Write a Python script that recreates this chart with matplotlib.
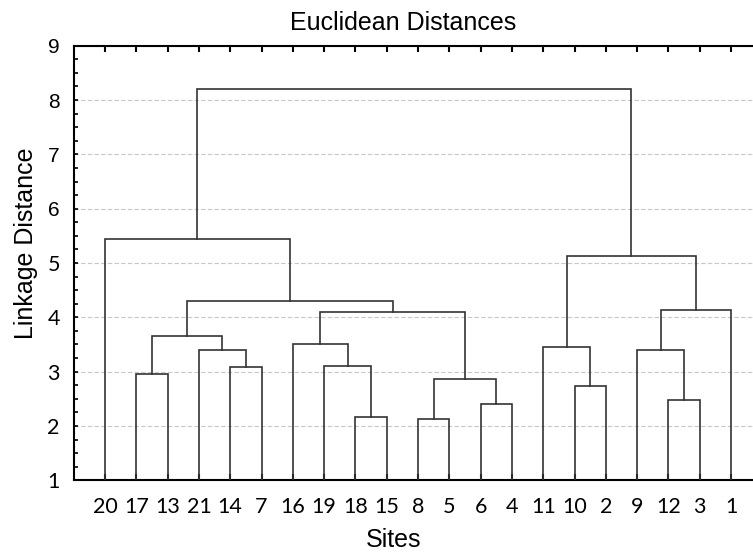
import matplotlib
matplotlib.use("Agg")
from matplotlib import pyplot as plt
from matplotlib.ticker import MultipleLocator

# leaf order along the x axis (site numbers)
leaf_labels = [20, 17, 13, 21, 14, 7, 16, 19, 18, 15, 8, 5, 6, 4, 11, 10, 2, 9, 12, 3, 1]

# merges: left child, right child, linkage distance (cN = result of merge N)
merge_left = ["17", "14", "21", "c0", "18", "19", "16", "8", "6", "c7",
              "c6", "c3", "20", "10", "11", "12", "9", "c16", "c14", "c12"]
merge_right = ["13", "7", "c1", "c2", "15", "c4", "c5", "5", "4", "c8",
               "c9", "c10", "c11", "2", "c13", "3", "c15", "1", "c17", "c18"]
merge_height = [2.96, 3.09, 3.39, 3.66, 2.16, 3.10, 3.51, 2.13, 2.41, 2.87,
                4.10, 4.30, 5.44, 2.73, 3.46, 2.48, 3.40, 4.14, 5.13, 8.20]

y_ticks = [1, 2, 3, 4, 5, 6, 7, 8, 9]

plt.rcParams["font.family"] = ["Liberation Sans", "DejaVu Sans"]

fig = plt.figure(figsize=(7.53, 5.54), dpi=100)
# axes run past the right edge of the picture, like the original crop
ax = fig.add_axes([73.7 / 753, 1 - 480.3 / 554, 688.6 / 753, 434.6 / 554])

line_color = "#333333"
pos = {str(lab): (i + 1, 1.0) for i, lab in enumerate(leaf_labels)}
for k, (a, b, h) in enumerate(zip(merge_left, merge_right, merge_height)):
    xa, ya = pos[a]
    xb, yb = pos[b]
    ax.plot([xa, xa, xb, xb], [ya, h, h, yb], color=line_color, lw=1.2,
            solid_joinstyle="miter", zorder=3)
    pos["c%d" % k] = ((xa + xb) / 2.0, h)

ax.set_xlim(0, len(leaf_labels) + 1)
ax.set_ylim(1, 9)

ax.set_xticks(range(1, len(leaf_labels) + 1))
ax.set_xticklabels([str(l) for l in leaf_labels])
ax.set_yticks(y_ticks)
ax.set_yticklabels([str(v) for v in y_ticks])
ax.yaxis.set_minor_locator(MultipleLocator(0.25))

ax.tick_params(axis="x", direction="in", top=True, bottom=True, length=4,
               width=1.5, pad=12, labelsize=15.5)
ax.tick_params(axis="y", which="both", direction="in", length=3, width=1.2,
               pad=10, labelsize=15)
for lbl in ax.get_xticklabels():
    lbl.set_fontfamily("Lato")
for lbl in ax.get_yticklabels():
    if int(lbl.get_text()) <= 5:
        lbl.set_fontfamily("Lato")
        lbl.set_fontsize(15.5)

ax.yaxis.grid(True, color="#c8c8c8", linestyle=(0, (4, 2)), linewidth=0.8)
ax.set_axisbelow(True)

for side in ["top", "bottom", "left"]:
    ax.spines[side].set_linewidth(1.5)
ax.spines["right"].set_visible(False)

fig.text(403 / 753, 1 - 30 / 554, "Euclidean Distances", fontsize=18,
         ha="center", va="baseline")
fig.text(393.5 / 753, 1 - 547 / 554, "Sites", fontsize=18,
         ha="center", va="baseline")
fig.text(26 / 753, 1 - 243 / 554, "Linkage Distance", fontsize=18,
         rotation=90, ha="center", va="center")

fig.savefig("out.png", dpi=100)
